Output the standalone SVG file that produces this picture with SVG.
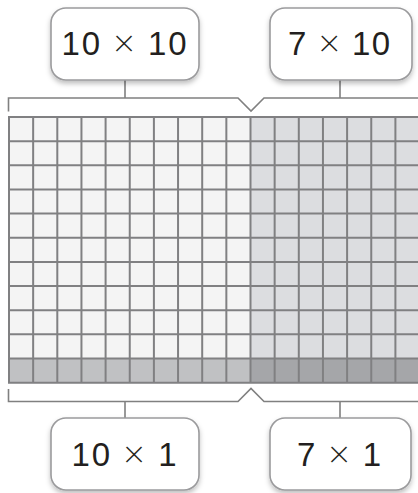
<svg xmlns="http://www.w3.org/2000/svg" width="418" height="493" viewBox="0 0 418 493">
<style>
.box{fill:#ffffff;stroke:#9b9b9d;stroke-width:1.6;filter:url(#sh)}
.lbl{font-family:"Liberation Sans","Open Sans",Arial,sans-serif;font-size:33px;fill:#231f20;text-anchor:middle}
.x{font-family:Lato,"Open Sans",sans-serif;font-size:38px;font-weight:300}
.con{fill:none;stroke:#808080;stroke-width:1.6}
.grid{fill:none;stroke:#808082;stroke-width:2}
</style>
<defs>
<filter id="sh" x="-20%" y="-20%" width="140%" height="150%">
<feDropShadow dx="0" dy="3" stdDeviation="2.5" flood-color="#000" flood-opacity="0.25"/>
</filter>
</defs>
<rect width="418" height="493" fill="#ffffff"/>
<g id="grid">
<rect x="9" y="117" width="241.5" height="241.5" fill="#f4f4f4"/>
<rect x="250.5" y="117" width="169.05" height="241.5" fill="#dcdde0"/>
<rect x="9" y="358.5" width="241.5" height="24.15" fill="#c0c1c3"/>
<rect x="250.5" y="358.5" width="169.05" height="24.15" fill="#a5a6a9"/>
<path class="grid" d="M9 117V382.65M33.15 117V382.65M57.3 117V382.65M81.45 117V382.65M105.6 117V382.65M129.75 117V382.65M153.9 117V382.65M178.05 117V382.65M202.2 117V382.65M226.35 117V382.65M250.5 117V382.65M274.65 117V382.65M298.8 117V382.65M322.95 117V382.65M347.1 117V382.65M371.25 117V382.65M395.4 117V382.65M419.55 117V382.65M8 117H420M8 141.15H420M8 165.3H420M8 189.45H420M8 213.6H420M8 237.75H420M8 261.9H420M8 286.05H420M8 310.2H420M8 334.35H420M8 358.5H420M8 382.65H420"/>
</g>
<g id="connectors">
<path class="con" d="M8.5 111.5V98H238L251 111L264 98H420"/>
<path class="con" d="M125 80V98M340 80V98"/>
<path class="con" d="M8.5 389V401.5H238L251 388.5L264 401.5H420"/>
<path class="con" d="M125 401.5V418M340 401.5V418"/>
</g>
<g id="box-10x10">
<rect class="box" x="51" y="8" width="148" height="72" rx="15"/>
<text class="lbl" x="124" y="55" textLength="125" lengthAdjust="spacing">10 <tspan class="x" dy="1">×</tspan><tspan dy="-1"> 10</tspan></text>
</g>
<g id="box-7x10">
<rect class="box" x="270" y="8" width="142" height="72" rx="15"/>
<text class="lbl" x="339" y="55" textLength="102" lengthAdjust="spacing">7 <tspan class="x" dy="1">×</tspan><tspan dy="-1"> 10</tspan></text>
</g>
<g id="box-10x1">
<rect class="box" x="51" y="418" width="148" height="72" rx="15"/>
<text class="lbl" x="124" y="466" textLength="105" lengthAdjust="spacing">10 <tspan class="x" dy="1">×</tspan><tspan dy="-1"> 1</tspan></text>
</g>
<g id="box-7x1">
<rect class="box" x="270" y="418" width="141" height="72" rx="15"/>
<text class="lbl" x="339" y="466" textLength="84" lengthAdjust="spacing">7 <tspan class="x" dy="1">×</tspan><tspan dy="-1"> 1</tspan></text>
</g>
</svg>
